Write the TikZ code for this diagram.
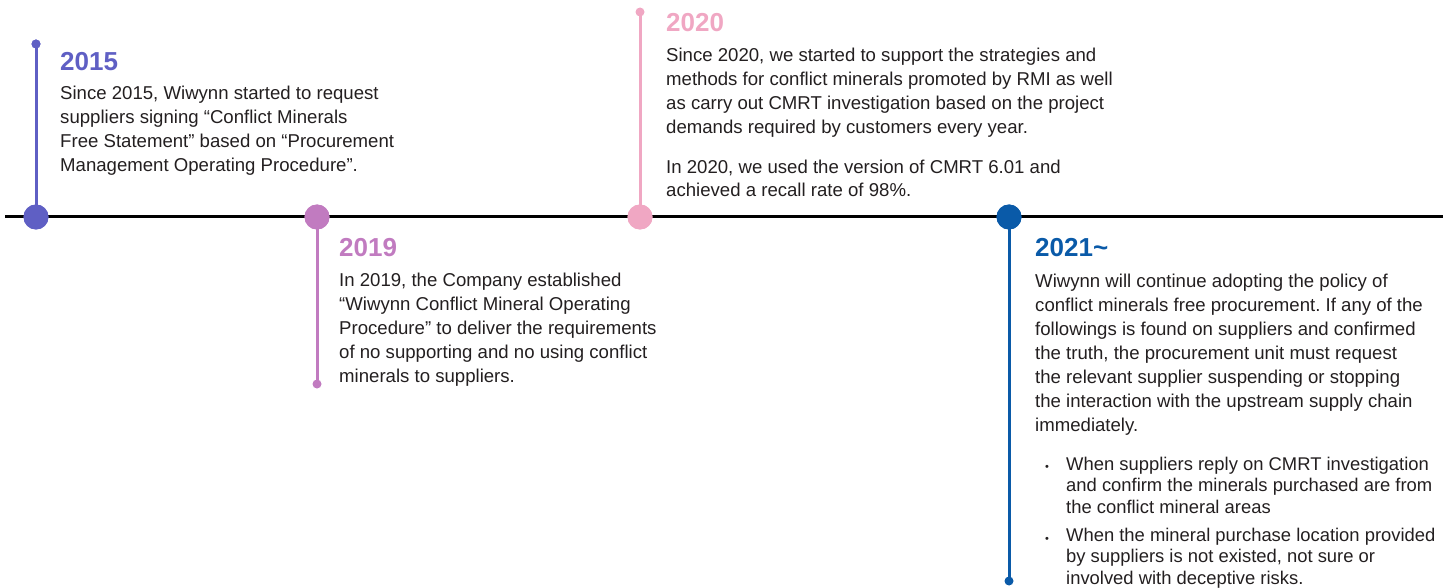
\documentclass[tikz,border=0pt]{standalone}
\usepackage{fontspec}
\setmainfont{Liberation Sans}
\frenchspacing
\definecolor{cA}{HTML}{5F5FC4}
\definecolor{cB}{HTML}{C17BC0}
\definecolor{cC}{HTML}{F0A7C3}
\definecolor{cD}{HTML}{0A5AA8}
\definecolor{txt}{HTML}{231F20}
\begin{document}
\frenchspacing
\begin{tikzpicture}[x=1pt,y=-1pt]
\useasboundingbox (0,0) rectangle (1451,588);
\tikzset{
 yr/.style={anchor=base west, inner sep=0, font=\fontsize{26}{30}\selectfont\bfseries},
 body/.style={anchor=base west, inner sep=0, align=left, text=txt, font=\fontsize{18.6}{24}\selectfont\frenchspacing},
 blist/.style={body, font=\fontsize{18.4}{21.5}\selectfont\frenchspacing},
 stem/.style={line width=3pt},
 bigdot/.style={circle, inner sep=0, minimum size=25pt},
 smalldot/.style={circle, inner sep=0, minimum size=9pt},
 bul/.style={anchor=base, inner sep=0, text=txt, font=\fontsize{11}{24}\selectfont},
}
% main line
\coordinate (L) at (5,217);
\coordinate (R) at (1443,217);
\draw[line width=3pt, black] (L) -- (R);
% 2015 (body nodes anchored at the baseline of their last line)
\node[smalldot, fill=cA] (a0) at (36,44) {};
\node[bigdot, fill=cA] (a1) at (36,217) {};
\draw[stem, cA] (a0.center) -- (a1.center);
\node[smalldot, fill=cA] at (36,44) {};
\node[bigdot, fill=cA] at (36,217) {};
\node[yr, text=cA] (ya) at (60,70.5) {2015};
\node[body] (ta) at (60,172) {Since 2015, Wiwynn started to request\\suppliers signing “Conflict Minerals\\Free Statement” based on “Procurement\\Management Operating Procedure”.};
% 2019
\node[bigdot, fill=cB] (b1) at (317,217) {};
\node[smalldot, fill=cB] (b0) at (317,384) {};
\draw[stem, cB] (b1.center) -- (b0.center);
\node[bigdot, fill=cB] at (317,217) {};
\node[yr, text=cB] (yb) at (339,256.5) {2019};
\node[body] (tb) at (339,382) {In 2019, the Company established\\“Wiwynn Conflict Mineral Operating\\Procedure” to deliver the requirements\\of no supporting and no using conflict\\minerals to suppliers.};
% 2020
\node[smalldot, fill=cC] (c0) at (640,12) {};
\node[bigdot, fill=cC] (c1) at (640,217) {};
\draw[stem, cC] (c0.center) -- (c1.center);
\node[bigdot, fill=cC] at (640,217) {};
\node[yr, text=cC] (yc) at (666,32) {2020};
\node[body] (tc) at (666,134) {Since 2020, we started to support the strategies and\\methods for conflict minerals promoted by RMI as well\\as carry out CMRT investigation based on the project\\demands required by customers every year.};
\node[body] (tc2) at (666,197) {In 2020, we used the version of CMRT 6.01 and\\achieved a recall rate of 98\%.};
% 2021
\node[bigdot, fill=cD] (d1) at (1009,217) {};
\node[smalldot, fill=cD] (d0) at (1009,581) {};
\draw[stem, cD] (d1.center) -- (d0.center);
\node[bigdot, fill=cD] at (1009,217) {};
\node[yr, text=cD] (yd) at (1035,257) {2021\char`\~};
\node[body] (td) at (1035,431) {Wiwynn will continue adopting the policy of\\conflict minerals free procurement. If any of the\\followings is found on suppliers and confirmed\\the truth, the procurement unit must request\\the relevant supplier suspending or stopping\\the interaction with the upstream supply chain\\immediately.};
\node[bul] (p1) at (1047,470) {•};
\node[blist] (q1) at (1066,513) {When suppliers reply on CMRT investigation\\and confirm the minerals purchased are from\\the conflict mineral areas};
\node[bul] (p2) at (1047,542) {•};
\node[blist] (q2) at (1066,584) {When the mineral purchase location provided\\by suppliers is not existed, not sure or\\involved with deceptive risks.};
\end{tikzpicture}
\end{document}
